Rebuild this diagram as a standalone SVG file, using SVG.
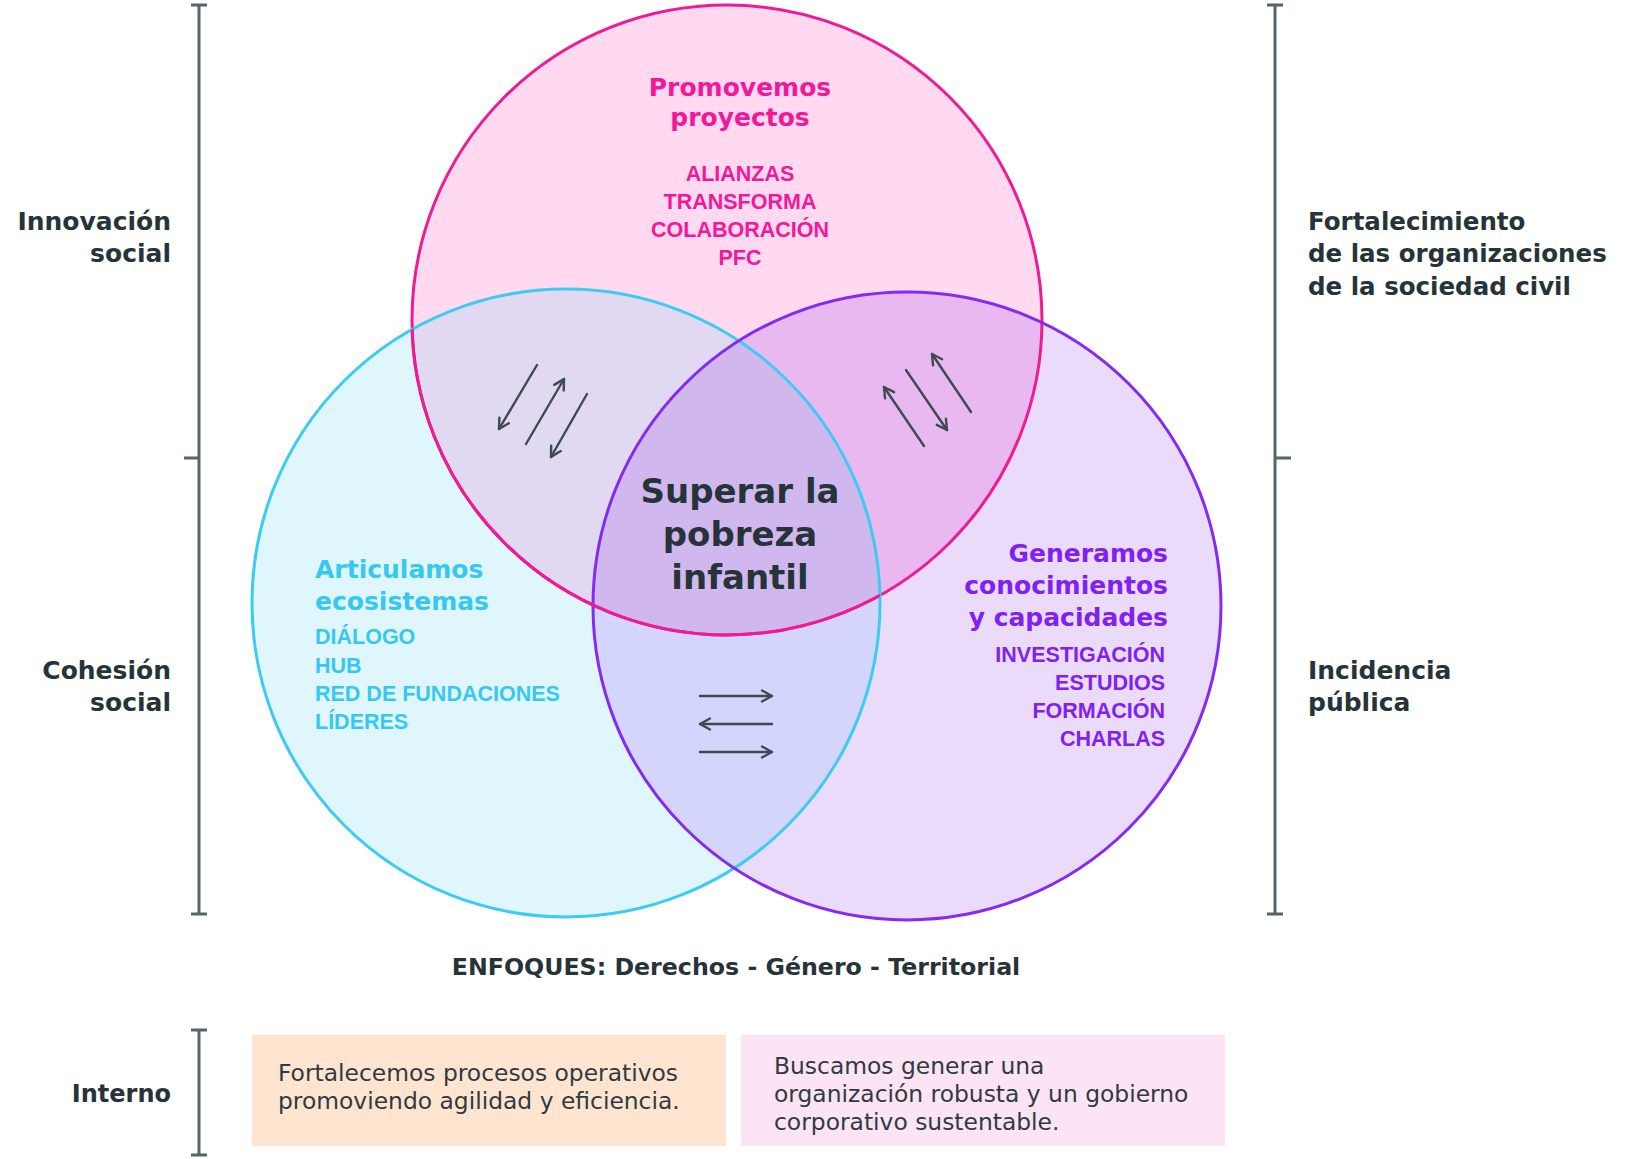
<svg xmlns="http://www.w3.org/2000/svg" width="1628" height="1159" viewBox="0 0 1628 1159">
  <style>
    .lbl { font-family: "DejaVu Sans", "Liberation Sans", sans-serif; font-weight: bold; font-size: 25px; fill: #263439; }
    .head { font-family: "DejaVu Sans", "Liberation Sans", sans-serif; font-weight: bold; font-size: 25px; }
    .caps { font-family: "Liberation Sans", Arial, sans-serif; font-weight: bold; font-size: 21.5px; }
    .body { font-family: "DejaVu Sans", "Liberation Sans", sans-serif; font-size: 23.4px; fill: #2f3b40; }
    .pink { fill: #f2189a; }
    .cyan { fill: #36c8f0; }
    .violet { fill: #7f20f4; }
    .bracket { stroke: #56656b; stroke-width: 3; fill: none; }
    .arrow { stroke: #3b4b51; stroke-width: 2.4; fill: none; stroke-linecap: round; }
  </style>
  <defs>
    <clipPath id="clipP"><circle cx="727" cy="320" r="315"/></clipPath>
    <clipPath id="clipC"><circle cx="566" cy="603" r="314"/></clipPath>
    <marker id="head" viewBox="0 0 14 14" refX="12" refY="7" markerWidth="14" markerHeight="14" markerUnits="userSpaceOnUse" orient="auto">
      <path d="M2,1.5 L12,7 L2,12.5" fill="none" stroke="#3b4b51" stroke-width="2.4" stroke-linecap="round" stroke-linejoin="round"/>
    </marker>
  </defs>

  <rect x="0" y="0" width="1628" height="1159" fill="#ffffff"/>

  <!-- Venn fills -->
  <g id="venn-fills">
    <circle cx="727" cy="320" r="315" fill="#fed9ef"/>
    <circle cx="566" cy="603" r="314" fill="#e0f6fd"/>
    <circle cx="907" cy="606" r="314" fill="#ebdbfb"/>
    <g clip-path="url(#clipP)">
      <circle cx="566" cy="603" r="314" fill="#e1d9f1"/>
      <circle cx="907" cy="606" r="314" fill="#e9b8f0"/>
    </g>
    <g clip-path="url(#clipC)">
      <circle cx="907" cy="606" r="314" fill="#d3d5fd"/>
    </g>
    <g clip-path="url(#clipP)">
      <g clip-path="url(#clipC)">
        <circle cx="907" cy="606" r="314" fill="#d0b7ee"/>
      </g>
    </g>
  </g>

  <!-- Node: Promovemos proyectos -->
  <g id="node-proyectos">
    <circle cx="727" cy="320" r="315" fill="none" stroke="#ee1c92" stroke-width="3"/>
    <text class="head pink" text-anchor="middle" x="740" y="96">Promovemos</text>
    <text class="head pink" text-anchor="middle" x="740" y="126">proyectos</text>
    <text class="caps pink" text-anchor="middle" x="740" y="181">ALIANZAS</text>
    <text class="caps pink" text-anchor="middle" x="740" y="209">TRANSFORMA</text>
    <text class="caps pink" text-anchor="middle" x="740" y="237">COLABORACIÓN</text>
    <text class="caps pink" text-anchor="middle" x="740" y="265">PFC</text>
  </g>

  <!-- Node: Articulamos ecosistemas -->
  <g id="node-ecosistemas">
    <circle cx="566" cy="603" r="314" fill="none" stroke="#3ccbf1" stroke-width="3"/>
    <text class="head cyan" x="315" y="578">Articulamos</text>
    <text class="head cyan" x="315" y="610">ecosistemas</text>
    <text class="caps cyan" x="315" y="644">DIÁLOGO</text>
    <text class="caps cyan" x="315" y="673">HUB</text>
    <text class="caps cyan" x="315" y="701">RED DE FUNDACIONES</text>
    <text class="caps cyan" x="315" y="729">LÍDERES</text>
  </g>

  <!-- Node: Generamos conocimientos -->
  <g id="node-conocimientos">
    <circle cx="907" cy="606" r="314" fill="none" stroke="#852af2" stroke-width="3"/>
    <text class="head violet" text-anchor="end" x="1168" y="562">Generamos</text>
    <text class="head violet" text-anchor="end" x="1168" y="594">conocimientos</text>
    <text class="head violet" text-anchor="end" x="1168" y="626">y capacidades</text>
    <text class="caps violet" text-anchor="end" x="1165" y="662">INVESTIGACIÓN</text>
    <text class="caps violet" text-anchor="end" x="1165" y="690">ESTUDIOS</text>
    <text class="caps violet" text-anchor="end" x="1165" y="718">FORMACIÓN</text>
    <text class="caps violet" text-anchor="end" x="1165" y="746">CHARLAS</text>
  </g>

  <!-- re-stroke pink on top for crossing order -->
  <circle cx="727" cy="320" r="315" fill="none" stroke="#ee1c92" stroke-width="3" clip-path="url(#clipC)"/>

  <!-- Node: centre -->
  <g id="node-centro">
    <text class="head" style="font-size:34px; fill:#263439" text-anchor="middle" x="740" y="503">Superar la</text>
    <text class="head" style="font-size:34px; fill:#263439" text-anchor="middle" x="740" y="546">pobreza</text>
    <text class="head" style="font-size:34px; fill:#263439" text-anchor="middle" x="740" y="589">infantil</text>
  </g>

  <!-- Connectors -->
  <g id="connectors">
    <line class="arrow" x1="537" y1="365" x2="499" y2="429" marker-end="url(#head)"/>
    <line class="arrow" x1="526" y1="444" x2="564" y2="379" marker-end="url(#head)"/>
    <line class="arrow" x1="587" y1="394" x2="551" y2="457" marker-end="url(#head)"/>

    <line class="arrow" x1="924" y1="446" x2="884" y2="387" marker-end="url(#head)"/>
    <line class="arrow" x1="906" y1="370" x2="947" y2="430" marker-end="url(#head)"/>
    <line class="arrow" x1="971" y1="412" x2="932" y2="354" marker-end="url(#head)"/>

    <line class="arrow" x1="700" y1="696" x2="772" y2="696" marker-end="url(#head)"/>
    <line class="arrow" x1="772" y1="724" x2="700" y2="724" marker-end="url(#head)"/>
    <line class="arrow" x1="700" y1="752" x2="772" y2="752" marker-end="url(#head)"/>
  </g>

  <!-- Left bracket -->
  <g id="bracket-left">
    <path class="bracket" d="M199,5 V914 M191,5 H207 M184,458 H199 M191,914 H207"/>
    <text class="lbl" text-anchor="end" x="171" y="230">Innovación</text>
    <text class="lbl" text-anchor="end" x="171" y="262">social</text>
    <text class="lbl" text-anchor="end" x="171" y="679">Cohesión</text>
    <text class="lbl" text-anchor="end" x="171" y="711">social</text>
  </g>

  <!-- Right bracket -->
  <g id="bracket-right">
    <path class="bracket" d="M1275,5 V914 M1267,5 H1283 M1275,458 H1291 M1267,914 H1283"/>
    <text class="lbl" style="font-size:24.5px" x="1308" y="230">Fortalecimiento</text>
    <text class="lbl" style="font-size:24.5px" x="1308" y="262">de las organizaciones</text>
    <text class="lbl" style="font-size:24.5px" x="1308" y="295">de la sociedad civil</text>
    <text class="lbl" x="1308" y="679">Incidencia</text>
    <text class="lbl" x="1308" y="711">pública</text>
  </g>

  <!-- Enfoques -->
  <g id="enfoques">
    <text class="lbl" style="font-size:23.7px" text-anchor="middle" x="736" y="975">ENFOQUES: Derechos - Género - Territorial</text>
  </g>

  <!-- Interno -->
  <g id="interno">
    <path class="bracket" d="M199,1030 V1155 M191,1030 H207 M191,1155 H207"/>
    <text class="lbl" style="font-size:24px" text-anchor="end" x="171" y="1102">Interno</text>
  </g>

  <g id="box-procesos">
    <rect x="252" y="1035" width="474" height="111" fill="#ffe5d0"/>
    <text class="body" x="278" y="1081">Fortalecemos procesos operativos</text>
    <text class="body" x="278" y="1109">promoviendo agilidad y eficiencia.</text>
  </g>

  <g id="box-gobierno">
    <rect x="741" y="1035" width="484" height="111" fill="#fde4f5"/>
    <text class="body" x="774" y="1074">Buscamos generar una</text>
    <text class="body" x="774" y="1102">organización robusta y un gobierno</text>
    <text class="body" x="774" y="1130">corporativo sustentable.</text>
  </g>
</svg>
